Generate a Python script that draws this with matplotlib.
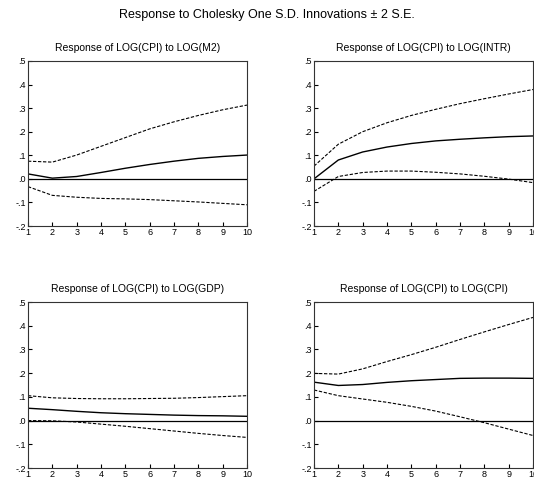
import matplotlib
matplotlib.use("Agg")
import matplotlib.pyplot as plt
import numpy as np

plt.rcParams['font.family'] = ['Liberation Sans', 'DejaVu Sans']

periods = [1, 2, 3, 4, 5, 6, 7, 8, 9, 10]

titles = ["Response of LOG(CPI) to LOG(M2)",
          "Response of LOG(CPI) to LOG(INTR)",
          "Response of LOG(CPI) to LOG(GDP)",
          "Response of LOG(CPI) to LOG(CPI)"]

m2_resp = [0.021, 0.003, 0.010, 0.027, 0.045, 0.061, 0.075, 0.087, 0.095, 0.101]
m2_upper = [0.075, 0.071, 0.101, 0.138, 0.175, 0.212, 0.242, 0.269, 0.293, 0.313]
m2_lower = [-0.033, -0.070, -0.078, -0.083, -0.085, -0.088, -0.093, -0.098, -0.104, -0.110]

intr_resp = [0.000, 0.080, 0.114, 0.135, 0.150, 0.161, 0.168, 0.174, 0.179, 0.182]
intr_upper = [0.054, 0.147, 0.200, 0.238, 0.269, 0.295, 0.319, 0.340, 0.360, 0.379]
intr_lower = [-0.053, 0.010, 0.027, 0.033, 0.033, 0.028, 0.021, 0.011, -0.001, -0.016]

gdp_resp = [0.052, 0.046, 0.039, 0.033, 0.029, 0.026, 0.023, 0.021, 0.020, 0.018]
gdp_upper = [0.105, 0.096, 0.093, 0.092, 0.092, 0.093, 0.094, 0.097, 0.101, 0.105]
gdp_lower = [0.000, -0.001, -0.006, -0.015, -0.024, -0.034, -0.044, -0.054, -0.063, -0.071]

cpi_resp = [0.162, 0.148, 0.152, 0.161, 0.168, 0.173, 0.178, 0.179, 0.179, 0.178]
cpi_upper = [0.199, 0.196, 0.218, 0.249, 0.278, 0.309, 0.342, 0.374, 0.405, 0.435]
cpi_lower = [0.129, 0.105, 0.091, 0.077, 0.060, 0.040, 0.016, -0.009, -0.036, -0.063]

ytick_vals = [-0.2, -0.1, 0.0, 0.1, 0.2, 0.3, 0.4, 0.5]
ytick_labels = ["-.2", "-.1", ".0", ".1", ".2", ".3", ".4", ".5"]
xtick_labels = ["1", "2", "3", "4", "5", "6", "7", "8", "9", "10"]

series = [(m2_resp, m2_upper, m2_lower),
          (intr_resp, intr_upper, intr_lower),
          (gdp_resp, gdp_upper, gdp_lower),
          (cpi_resp, cpi_upper, cpi_lower)]

fig = plt.figure(figsize=(5.34, 4.82), dpi=100)
fig.text(0.5, 0.969, "Response to Cholesky One S.D. Innovations \u00b1 2 S.E.",
         ha='center', va='center', fontsize=9)

W, H = 534, 482
boxes = [(28, 61, 247, 226), (314, 61, 533, 226),
         (28, 302, 247, 468), (314, 302, 533, 468)]

for (x0, y0, x1, y1), title, (r, u, l) in zip(boxes, titles, series):
    ax = fig.add_axes([x0 / W, 1 - y1 / H, (x1 - x0) / W, (y1 - y0) / H])
    ax.plot(periods, r, color='black', lw=1.0)
    ax.plot(periods, u, color='black', lw=0.8, ls=(0, (3, 1.5)))
    ax.plot(periods, l, color='black', lw=0.8, ls=(0, (3, 1.5)))
    ax.axhline(0, color='black', lw=0.9)
    ax.set_xlim(1, 10)
    ax.set_ylim(-0.2, 0.5)
    ax.set_xticks(periods)
    ax.set_xticklabels(xtick_labels)
    ax.set_yticks(ytick_vals)
    ax.set_yticklabels(ytick_labels)
    ax.tick_params(direction='in', length=3, width=0.8, labelsize=6.5, pad=1.5)
    for sp in ax.spines.values():
        sp.set_linewidth(0.8)
        sp.set_color('#333333')
    ax.set_title(title, fontsize=7.5, pad=7)

fig.savefig("out.png", dpi=100)
